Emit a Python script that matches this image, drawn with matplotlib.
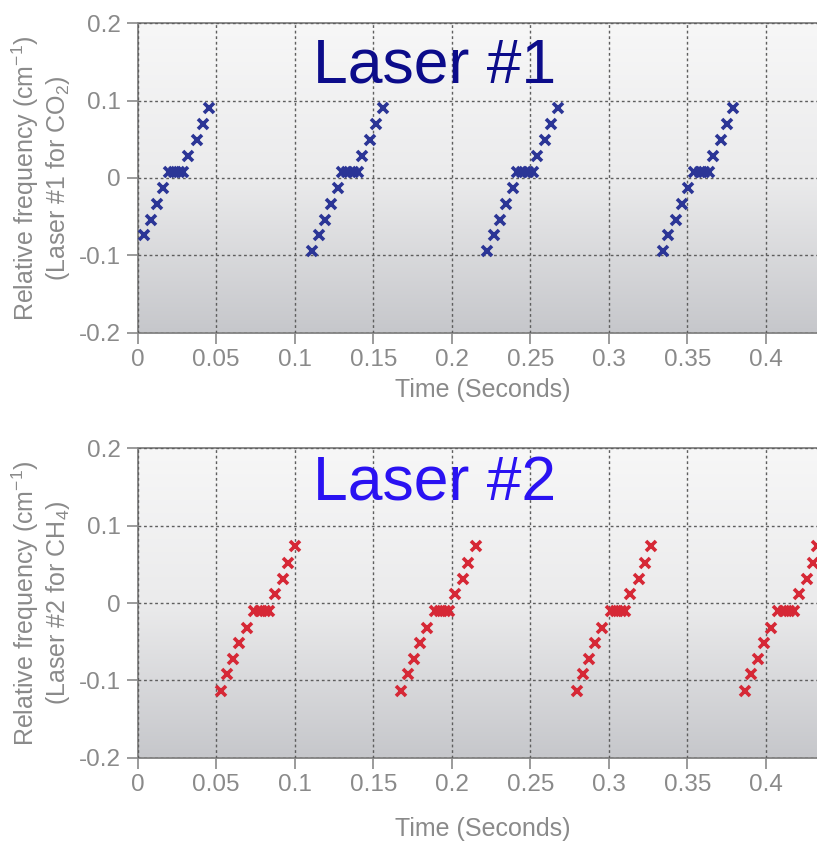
import numpy as np
import matplotlib
matplotlib.use("Agg")
import matplotlib.pyplot as plt
from matplotlib.colors import LinearSegmentedColormap

plt.rcParams['font.family'] = ['Liberation Sans', 'DejaVu Sans']

# Laser #1 (CO2) sweep samples: time (s) and relative frequency (cm^-1)
laser1_time = [
    0.0040, 0.0083, 0.0125, 0.0163, 0.0197, 0.0233, 0.0265, 0.0291, 0.0322, 0.0376, 0.0414, 0.0454,
    0.1108, 0.1153, 0.1191, 0.1231, 0.1274, 0.1303, 0.1335, 0.1370, 0.1401, 0.1431, 0.1480, 0.1518, 0.1565,
    0.2223, 0.2268, 0.2306, 0.2346, 0.2389, 0.2418, 0.2450, 0.2484, 0.2516, 0.2545, 0.2594, 0.2633, 0.2679,
    0.3344, 0.3379, 0.3426, 0.3467, 0.3505, 0.3543, 0.3581, 0.3607, 0.3637, 0.3664, 0.3717, 0.3755, 0.3793,
]
laser1_freq = [
    -0.074, -0.054, -0.033, -0.013, 0.008, 0.008, 0.008, 0.008, 0.028, 0.049, 0.070, 0.091,
    -0.094, -0.074, -0.054, -0.033, -0.013, 0.008, 0.008, 0.008, 0.008, 0.028, 0.049, 0.070, 0.091,
    -0.094, -0.074, -0.054, -0.033, -0.013, 0.008, 0.008, 0.008, 0.008, 0.028, 0.049, 0.070, 0.091,
    -0.094, -0.074, -0.054, -0.033, -0.013, 0.008, 0.008, 0.008, 0.008, 0.028, 0.049, 0.070, 0.091,
]

# Laser #2 (CH4) sweep samples
laser2_time = [
    0.0529, 0.0571, 0.0609, 0.0647, 0.0694, 0.0743, 0.0779, 0.0811, 0.0838, 0.0873, 0.0924, 0.0957, 0.1002,
    0.1675, 0.1722, 0.1760, 0.1798, 0.1845, 0.1894, 0.1926, 0.1957, 0.1985, 0.2021, 0.2074, 0.2106, 0.2153,
    0.2796, 0.2834, 0.2876, 0.2915, 0.2957, 0.3013, 0.3046, 0.3076, 0.3106, 0.3136, 0.3191, 0.3229, 0.3268,
    0.3870, 0.3908, 0.3951, 0.3989, 0.4032, 0.4080, 0.4116, 0.4150, 0.4180, 0.4210, 0.4261, 0.4299, 0.4329,
]
laser2_freq = [
    -0.114, -0.092, -0.072, -0.052, -0.032, -0.010, -0.010, -0.010, -0.010, 0.011, 0.031, 0.052, 0.074,
    -0.114, -0.092, -0.072, -0.052, -0.032, -0.010, -0.010, -0.010, -0.010, 0.011, 0.031, 0.052, 0.074,
    -0.114, -0.092, -0.072, -0.052, -0.032, -0.010, -0.010, -0.010, -0.010, 0.011, 0.031, 0.052, 0.074,
    -0.114, -0.092, -0.072, -0.052, -0.032, -0.010, -0.010, -0.010, -0.010, 0.011, 0.031, 0.052, 0.074,
]

x_ticks = [0, 0.05, 0.1, 0.15, 0.2, 0.25, 0.3, 0.35, 0.4]
x_tick_labels = ["0", "0.05", "0.1", "0.15", "0.2", "0.25", "0.3", "0.35", "0.4"]
y_ticks = [-0.2, -0.1, 0, 0.1, 0.2]
y_tick_labels = ["-0.2", "-0.1", "0", "0.1", "0.2"]

panels = [
    dict(time=laser1_time, freq=laser1_freq, marker_color="#2b3596",
         title="Laser #1", title_color="#0c0c8a", xlabelpad=5,
         ylabel="Relative frequency (cm$^{\\mathregular{-1}}$)\n(Laser #1 for CO$_{\\mathregular{2}}$)"),
    dict(time=laser2_time, freq=laser2_freq, marker_color="#d62836",
         title="Laser #2", title_color="#2a12f2", xlabelpad=15,
         ylabel="Relative frequency (cm$^{\\mathregular{-1}}$)\n(Laser #2 for CH$_{\\mathregular{4}}$)"),
]

W, H = 817, 841
fig = plt.figure(figsize=(W / 100, H / 100), dpi=100)

xmax = 0.44
left_px = 137.7
px_per_unit = 1570.0
ax_w = xmax * px_per_unit / W
ax_h = 309.4 / H
bottoms = [1 - 332.7 / H, 1 - 757.7 / H]
title_y = [0.1236, 0.133]

grey = "#8a8a8a"
bg_cmap = LinearSegmentedColormap.from_list("bg", ["#f7f7f7", "#ebebec", "#c6c7cb"])

for p, b, ty in zip(panels, bottoms, title_y):
    ax = fig.add_axes([left_px / W, b, ax_w, ax_h])

    # vertical gradient background: light at the top, darker grey at the bottom
    grad = np.linspace(0, 1, 256).reshape(-1, 1)
    ax.imshow(grad, cmap=bg_cmap, aspect="auto", extent=[0, xmax, -0.2, 0.2],
              origin="upper", zorder=0)
    ax.set_xlim(0, xmax)
    ax.set_ylim(-0.2, 0.2)

    ax.set_xticks(x_ticks)
    ax.set_xticklabels(x_tick_labels)
    ax.set_yticks(y_ticks)
    ax.set_yticklabels(y_tick_labels)
    ax.tick_params(axis="both", direction="out", length=8, width=1.2, color=grey,
                   labelcolor=grey, labelsize=17.5, pad=4)
    for side in ("left", "bottom", "top"):
        ax.spines[side].set_color(grey)
        ax.spines[side].set_linewidth(1.4)
    ax.spines["right"].set_visible(False)

    ax.grid(True, color="#5e5e5e", linestyle=(0, (2, 2)), linewidth=1.0, zorder=1)
    ax.set_axisbelow(False)

    ax.plot(p["time"], p["freq"], linestyle="none", marker="x", markersize=7.5,
            markeredgewidth=2.6, color=p["marker_color"], zorder=3, clip_on=False)

    ax.text(0.1115, ty, p["title"], color=p["title_color"], fontsize=45,
            va="baseline", ha="left", zorder=4)

    ax.set_ylabel(p["ylabel"], color=grey, fontsize=18, linespacing=1.15, labelpad=5)
    ax.set_xlabel("Time (Seconds)", color=grey, fontsize=18, labelpad=p["xlabelpad"])

fig.savefig("out.png", dpi=100)
